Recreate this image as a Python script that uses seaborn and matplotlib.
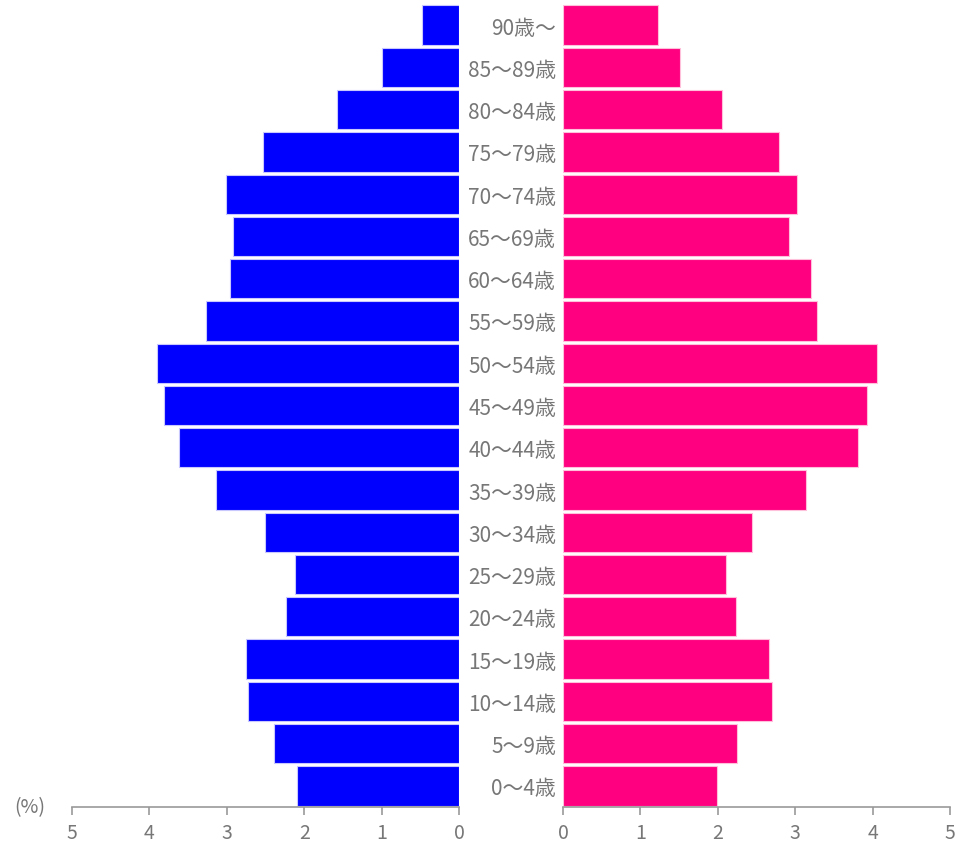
import numpy as np
import pandas as pd
import seaborn as sns
import matplotlib.pyplot as plt

# === DATA ===
age_groups = ["90歳～", "85～89歳", "80～84歳", "75～79歳", "70～74歳", "65～69歳",
              "60～64歳", "55～59歳", "50～54歳", "45～49歳", "40～44歳", "35～39歳",
              "30～34歳", "25～29歳", "20～24歳", "15～19歳", "10～14歳", "5～9歳", "0～4歳"]
male_pct = [0.48, 0.99, 1.58, 2.53, 3.01, 2.92, 2.96, 3.27, 3.90, 3.81,
            3.62, 3.14, 2.51, 2.12, 2.24, 2.75, 2.73, 2.39, 2.09]
female_pct = [1.23, 1.51, 2.05, 2.79, 3.02, 2.92, 3.20, 3.28, 4.06, 3.93,
              3.81, 3.14, 2.44, 2.11, 2.24, 2.66, 2.70, 2.25, 1.99]
x_ticks = [0, 1, 2, 3, 4, 5]

df = pd.DataFrame({'age': age_groups, 'male': male_pct, 'female': female_pct})

sns.set_style("white")
plt.rcParams['font.family'] = ['Noto Sans CJK JP', 'DejaVu Sans']

W, H = 957, 845
fig = plt.figure(figsize=(W / 100, H / 100), dpi=100)
bottom = 1 - 808 / H
height = (808 - 5) / H
ax_l = fig.add_axes([72 / W, bottom, 387 / W, height])
ax_r = fig.add_axes([563 / W, bottom, 387 / W, height])

grey = '#777777'

sns.barplot(data=df, x='male', y='age', order=age_groups, ax=ax_l,
            color='#0000ff', saturation=1, width=0.93,
            edgecolor='#c8c8ff', linewidth=0.8)
sns.barplot(data=df, x='female', y='age', order=age_groups, ax=ax_r,
            color='#ff0080', saturation=1, width=0.93,
            edgecolor='#ffc0dc', linewidth=0.8)

ax_l.set_xlim(5, 0)
ax_r.set_xlim(0, 5)

for ax in (ax_l, ax_r):
    ax.set_xlabel('')
    ax.set_ylabel('')
    ax.set_xticks(x_ticks)
    ax.set_xticklabels([str(t) for t in x_ticks])
    for s in ('top', 'left', 'right'):
        ax.spines[s].set_visible(False)
    ax.spines['bottom'].set_color('#999999')
    ax.spines['bottom'].set_linewidth(1.2)
    ax.tick_params(axis='x', bottom=True, direction='out', length=5.5, width=1.2,
                   color='#999999', labelcolor=grey, labelsize=14, pad=5)
    ax.set_ylim(len(age_groups) - 0.5, -0.5)

ax_l.set_yticks([])
ax_r.tick_params(axis='y', left=False, length=0, pad=5, labelcolor=grey, labelsize=15)

fig.text(30 / W, 1 - 808 / H, '(%)', ha='center', va='center',
         color=grey, fontsize=14)

fig.savefig('out.png', dpi=100)
